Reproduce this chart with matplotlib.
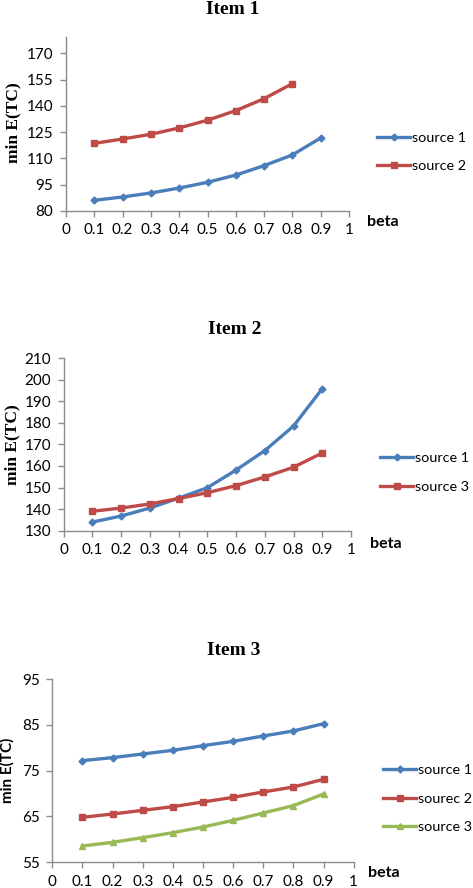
import matplotlib
matplotlib.use("Agg")
import matplotlib.pyplot as plt
import numpy as np

beta = [0.1, 0.2, 0.3, 0.4, 0.5, 0.6, 0.7, 0.8, 0.9]
xticks = [0, 0.1, 0.2, 0.3, 0.4, 0.5, 0.6, 0.7, 0.8, 0.9, 1]
xticklabels = ["0", "0.1", "0.2", "0.3", "0.4", "0.5", "0.6", "0.7", "0.8", "0.9", "1"]

# Item 1
item1_s1 = [86.1, 88.0, 90.3, 93.1, 96.4, 100.5, 105.9, 112.0, 121.7]
item1_s2 = [118.6, 121.1, 123.8, 127.4, 131.8, 137.3, 144.1, 152.7]
item1_yticks = [80, 95, 110, 125, 140, 155, 170]

# Item 2
item2_s1 = [134.0, 136.8, 140.5, 145.1, 149.9, 158.1, 167.1, 178.5, 195.8]
item2_s3 = [139.0, 140.5, 142.4, 144.9, 147.6, 150.9, 154.9, 159.4, 166.0]
item2_yticks = [130, 140, 150, 160, 170, 180, 190, 200, 210]

# Item 3
item3_s1 = [77.2, 77.85, 78.65, 79.45, 80.47, 81.42, 82.59, 83.69, 85.29]
item3_s2 = [64.78, 65.51, 66.31, 67.12, 68.14, 69.16, 70.33, 71.42, 73.10]
item3_s3 = [58.50, 59.31, 60.33, 61.42, 62.66, 64.12, 65.73, 67.34, 69.89]
item3_yticks = [55, 65, 75, 85, 95]

BLUE = "#4A7EBB"
RED = "#BE4B48"
GREEN = "#98B954"
AXC = "#8C8C8C"
SANS = ["Lato", "DejaVu Sans"]
SERIF = ["Liberation Serif", "DejaVu Serif"]

W, H = 473, 888
fig = plt.figure(figsize=(W / 100, H / 100), dpi=100)

def px_axes(left, right, top, bottom):
    return fig.add_axes([left / W, 1 - bottom / H, (right - left) / W, (bottom - top) / H])

def style(ax, ylim, yticks):
    ax.set_xlim(0, 1)
    ax.set_ylim(*ylim)
    ax.set_xticks(xticks)
    ax.set_xticklabels(xticklabels)
    ax.set_yticks(yticks)
    for s in ("top", "right"):
        ax.spines[s].set_visible(False)
    for s in ("left", "bottom"):
        ax.spines[s].set_color(AXC)
        ax.spines[s].set_linewidth(1.0)
    ax.tick_params(axis="both", direction="out", length=4, width=1.0, color=AXC,
                   labelsize=11, pad=5)
    for lab in ax.get_xticklabels() + ax.get_yticklabels():
        lab.set_family(SANS)
    ax.patch.set_alpha(0)

def plot_series(ax, y, color, marker, ms, label):
    ax.plot(beta[:len(y)], y, color=color, lw=2.4, marker=marker, ms=ms,
            markeredgecolor=color, label=label, clip_on=False)

# Panel 1
ax1 = px_axes(66, 349, 37, 211)
plot_series(ax1, item1_s1, BLUE, "D", 3.5, "source 1")
plot_series(ax1, item1_s2, RED, "s", 5, "source 2")
style(ax1, (80, 179.3), item1_yticks)

# Panel 2
ax2 = px_axes(63.7, 351, 358, 530.7)
plot_series(ax2, item2_s1, BLUE, "D", 3.5, "source 1")
plot_series(ax2, item2_s3, RED, "s", 5, "source 3")
style(ax2, (130, 210), item2_yticks)

# Panel 3
ax3 = px_axes(52.3, 353.7, 679.3, 862)
plot_series(ax3, item3_s1, BLUE, "D", 3.5, "source 1")
plot_series(ax3, item3_s2, RED, "s", 5, "sourec 2")
plot_series(ax3, item3_s3, GREEN, "^", 4.5, "source 3")
style(ax3, (55, 95), item3_yticks)

def legend(ax, x, ymid):
    leg = ax.legend(loc="center left", bbox_to_anchor=(x / W, 1 - ymid / H),
                    bbox_transform=fig.transFigure, frameon=False,
                    handlelength=2.3, handletextpad=0.12, labelspacing=1.15,
                    borderaxespad=0, borderpad=0, prop={"family": SANS, "size": 10.4})
    return leg

legend(ax1, 377, 152)
legend(ax2, 380, 472.5)
legend(ax3, 383, 798.5)

def title(x, y, s):
    fig.text(x / W, 1 - y / H, s, ha="center", va="baseline", family=SERIF,
             weight="bold", fontsize=14)

title(233, 13.5, "Item 1")
title(235, 334, "Item 2")
title(234, 655, "Item 3")

fig.text(13 / W, 1 - 123 / H, "min E(TC)", rotation=90, ha="center", va="center",
         family=SERIF, weight="bold", fontsize=12.5)
fig.text(12 / W, 1 - 445 / H, "min E(TC)", rotation=90, ha="center", va="center",
         family=SERIF, weight="bold", fontsize=12.5)
fig.text(7 / W, 1 - 770 / H, "min E(TC)", rotation=90, ha="center", va="center",
         family=SANS, weight="bold", fontsize=11)

for (x, y) in [(367, 222), (370, 544), (368, 873)]:
    fig.text(x / W, 1 - y / H, "beta", ha="left", va="center", family=SANS,
             weight="bold", fontsize=11.5)

fig.savefig("out.png", dpi=100)
